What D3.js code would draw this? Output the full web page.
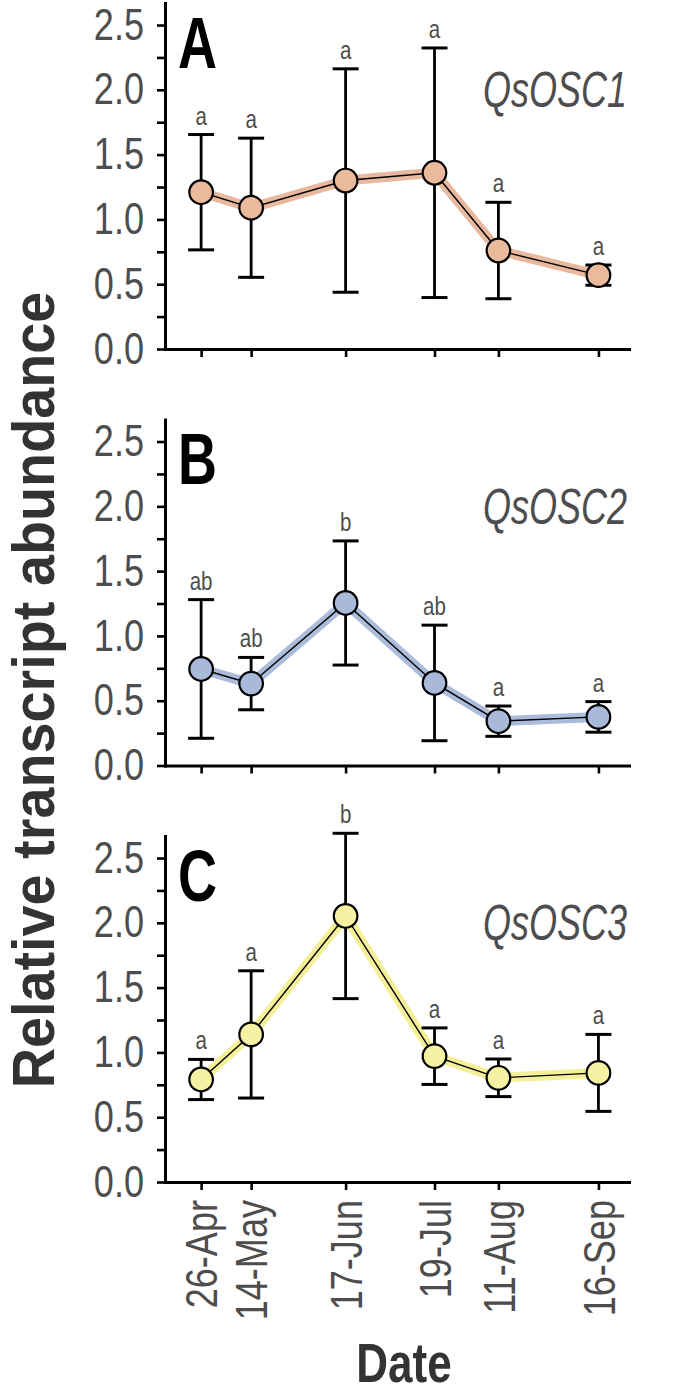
<!DOCTYPE html>
<html>
<head>
<meta charset="utf-8">
<script src="https://cdn.jsdelivr.net/npm/d3@7"></script>
<style>
  html, body { margin: 0; padding: 0; background: #fff; }
  svg { display: block; }
</style>
</head>
<body>
<div id="chart"></div>
<script>
// ---------- data ----------
const sampleDates = ["2018-04-26", "2018-05-14", "2018-06-17", "2018-07-19", "2018-08-11", "2018-09-16"];
const dateLabels = ["26-Apr", "14-May", "17-Jun", "19-Jul", "11-Aug", "16-Sep"];
const genes = ["QsOSC1", "QsOSC2", "QsOSC3"];
const panelLetters = ["A", "B", "C"];

const osc1Mean = [1.21, 1.09, 1.30, 1.36, 0.76, 0.57];
const osc1SD   = [0.445, 0.537, 0.862, 0.963, 0.372, 0.078];
const osc1Sig  = ["a", "a", "a", "a", "a", "a"];

const osc2Mean = [0.745, 0.632, 1.254, 0.637, 0.342, 0.375];
const osc2SD   = [0.535, 0.202, 0.479, 0.446, 0.117, 0.118];
const osc2Sig  = ["ab", "ab", "b", "ab", "a", "a"];

const osc3Mean = [0.791, 1.139, 2.053, 0.971, 0.804, 0.842];
const osc3SD   = [0.155, 0.491, 0.638, 0.218, 0.145, 0.297];
const osc3Sig  = ["a", "a", "b", "a", "a", "a"];

const yTickValues = [0, 0.25, 0.5, 0.75, 1.0, 1.25, 1.5, 1.75, 2.0, 2.25, 2.5];
const yMax = 2.67;
const xDomain = ["2018-04-13", "2018-09-27"];

const fillColors = ["#ebb99b", "#a9b9d9", "#f6f1a3"];
const bandColors = ["#e6b194", "#a2b4d6", "#f4ee8c"];

// ---------- layout ----------
const W = 685, H = 1394;
const left = 165, right = 629;
const panelH = 346, panelStep = 416.5, firstTop = 3;
const FONT = "'Liberation Sans', Arial, sans-serif";
const TXT = "#4d4d4d";

// place a text at (tx, ty) with a rotation and a horizontal squeeze (narrow-typeface look)
function place(sel, tx, ty, sx, rot) {
  sel.attr("x", 0).attr("y", 0)
    .attr("transform", `translate(${tx},${ty})${rot ? ` rotate(${rot})` : ""} scale(${sx},1)`);
}

const parse = d3.utcParse("%Y-%m-%d");
const dates = sampleDates.map(parse);

const svg = d3.select("#chart").append("svg")
  .attr("width", W).attr("height", H)
  .attr("font-family", FONT);

const x = d3.scaleUtc().domain(xDomain.map(parse)).range([left, right]);

const panels = [
  { mean: osc1Mean, sd: osc1SD, sig: osc1Sig },
  { mean: osc2Mean, sd: osc2SD, sig: osc2Sig },
  { mean: osc3Mean, sd: osc3SD, sig: osc3Sig }
];

panels.forEach((p, i) => {
  const top = firstTop + i * panelStep;
  const y = d3.scaleLinear().domain([0, yMax]).range([top + panelH, top]);
  const g = svg.append("g");
  const rows = dates.map((d, k) => ({ date: d, mean: p.mean[k], sd: p.sd[k], sig: p.sig[k] }));

  // y axis
  const yAxis = g.append("g")
    .attr("transform", `translate(${left},0)`)
    .call(d3.axisLeft(y).tickValues(yTickValues).tickSize(8).tickSizeOuter(0).tickPadding(13)
      .tickFormat(d => (Math.abs(d * 2 - Math.round(d * 2)) < 1e-9) ? d3.format(".1f")(d) : ""));
  // x axis
  const xAxis = g.append("g")
    .attr("transform", `translate(0,${top + panelH})`)
    .call(d3.axisBottom(x).tickValues(dates).tickSize(8).tickSizeOuter(0)
      .tickFormat((d, k) => i === 2 ? dateLabels[k] : ""));

  [yAxis, xAxis].forEach(a => {
    a.select(".domain").attr("stroke", "#000").attr("stroke-width", 3).attr("stroke-linecap", "square");
    a.selectAll(".tick line").attr("stroke", "#000").attr("stroke-width", 2.6);
    a.selectAll(".tick text").attr("fill", TXT).attr("font-size", 44).attr("font-family", FONT);
  });
  yAxis.selectAll(".tick text").each(function () {
    place(d3.select(this), -21, 0, 0.82, 0);
  });
  xAxis.selectAll(".tick text")
    .attr("text-anchor", "end").attr("dy", "0.36em")
    .attr("x", 0).attr("y", 0)
    .attr("transform", "rotate(-90) translate(-18,0) scale(0.82,1)");

  // band line + thin line
  const line = d3.line().x(d => x(d.date)).y(d => y(d.mean));
  g.append("path").datum(rows).attr("d", line)
    .attr("fill", "none").attr("stroke", bandColors[i]).attr("stroke-width", 10)
    .attr("stroke-linejoin", "round").attr("stroke-opacity", 0.9);
  g.append("path").datum(rows).attr("d", line)
    .attr("fill", "none").attr("stroke", "#000").attr("stroke-width", 1.4);

  // error bars
  const eb = g.append("g").selectAll("g").data(rows).join("g");
  eb.append("line")
    .attr("x1", d => x(d.date)).attr("x2", d => x(d.date))
    .attr("y1", d => y(d.mean - d.sd)).attr("y2", d => y(d.mean + d.sd))
    .attr("stroke", "#000").attr("stroke-width", 2.8);
  eb.append("line")
    .attr("x1", d => x(d.date) - 13).attr("x2", d => x(d.date) + 13)
    .attr("y1", d => y(d.mean + d.sd)).attr("y2", d => y(d.mean + d.sd))
    .attr("stroke", "#000").attr("stroke-width", 3);
  eb.append("line")
    .attr("x1", d => x(d.date) - 13).attr("x2", d => x(d.date) + 13)
    .attr("y1", d => y(d.mean - d.sd)).attr("y2", d => y(d.mean - d.sd))
    .attr("stroke", "#000").attr("stroke-width", 3);

  // points
  g.append("g").selectAll("circle").data(rows).join("circle")
    .attr("cx", d => x(d.date)).attr("cy", d => y(d.mean)).attr("r", 11.8)
    .attr("fill", fillColors[i]).attr("stroke", "#000").attr("stroke-width", 2.2);

  // significance letters
  g.append("g").selectAll("text").data(rows).join("text")
    .attr("text-anchor", "middle").attr("font-size", 25).attr("fill", TXT)
    .text(d => d.sig)
    .each(function (d) { place(d3.select(this), x(d.date), y(d.mean + d.sd) - 10, 0.82, 0); });

  // panel letter
  g.append("text")
    .attr("font-size", 73).attr("font-weight", "bold").attr("fill", "#000")
    .text(panelLetters[i])
    .call(s => place(s, 178, top + 64.5, 0.74, 0));

  // gene label
  g.append("text")
    .attr("text-anchor", "end").attr("font-size", 50).attr("font-style", "italic")
    .attr("fill", TXT).text(genes[i])
    .call(s => place(s, 627, top + 104, 0.72, 0));
});

// axis titles
svg.append("text")
  .attr("text-anchor", "middle").attr("font-size", 60).attr("font-weight", "bold")
  .attr("fill", "#333").text("Relative transcript abundance")
  .call(s => place(s, 54, 690, 0.93, -90));

svg.append("text")
  .attr("text-anchor", "middle").attr("font-size", 55).attr("font-weight", "bold")
  .attr("fill", "#333").text("Date")
  .call(s => place(s, 404, 1382, 0.8, 0));
</script>
</body>
</html>
